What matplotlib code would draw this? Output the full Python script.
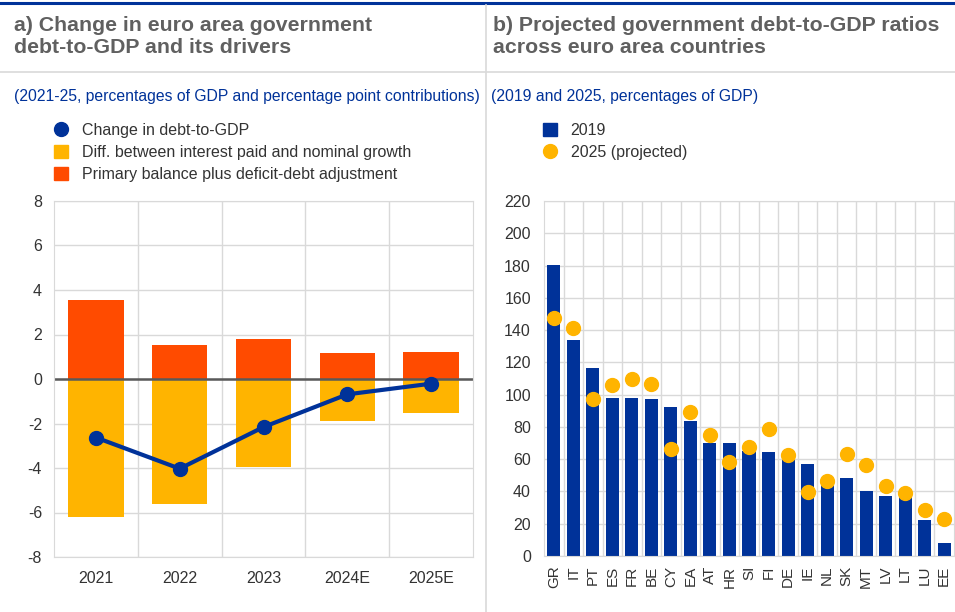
import matplotlib.pyplot as plt
import numpy as np
from matplotlib.lines import Line2D
from matplotlib.patches import Patch

plt.rcParams['font.family'] = ['Liberation Sans', 'DejaVu Sans']
plt.rcParams['axes.unicode_minus'] = False

# panel a data
years = ["2021", "2022", "2023", "2024E", "2025E"]
primary_balance = [3.55, 1.53, 1.8, 1.17, 1.23]
interest_growth = [-6.2, -5.6, -3.94, -1.87, -1.53]
debt_change = [-2.63, -4.03, -2.16, -0.69, -0.21]

# panel b data
countries = ["GR", "IT", "PT", "ES", "FR", "BE", "CY", "EA", "AT", "HR", "SI",
             "FI", "DE", "IE", "NL", "SK", "MT", "LV", "LT", "LU", "EE"]
debt_2019 = [180.2, 133.8, 116.4, 98.2, 98.2, 97.4, 92.6, 83.9, 70.2, 70.2, 65.0,
             64.6, 59.8, 56.8, 45.0, 48.1, 40.0, 36.9, 37.0, 22.4, 8.1]
debt_2025 = [147.5, 141.0, 97.4, 106.0, 109.8, 106.7, 66.1, 89.1, 74.8, 58.2, 67.7,
             78.9, 62.4, 39.8, 46.4, 63.0, 56.6, 43.1, 39.2, 28.6, 23.0]

BLUE = "#003299"
YELLOW = "#ffb400"
RED = "#ff4b00"
GRID = "#d9d9d9"
TXT = "#333333"

W, H = 955, 612
fig = plt.figure(figsize=(W / 100, H / 100), dpi=100)


def px_axes(x0, y0, x1, y1):
    return fig.add_axes([x0 / W, 1 - y1 / H, (x1 - x0) / W, (y1 - y0) / H])


# frame lines
fig.add_artist(Line2D([0, 1], [1 - 3 / H, 1 - 3 / H], color=BLUE, lw=2.2))
fig.add_artist(Line2D([0, 1], [1 - 72 / H, 1 - 72 / H], color=GRID, lw=1.2))
fig.add_artist(Line2D([486 / W, 486 / W], [0, 1 - 5 / H], color=GRID, lw=1.2))

# titles
fig.text(14 / W, 1 - 16 / H, "a) Change in euro area government\ndebt-to-GDP and its drivers",
         fontsize=15.3, fontweight="bold", color="#606060", va="top", linespacing=1.18)
fig.text(493 / W, 1 - 16 / H, "b) Projected government debt-to-GDP ratios\nacross euro area countries",
         fontsize=15.3, fontweight="bold", color="#606060", va="top", linespacing=1.18)
fig.text(14 / W, 1 - 97 / H, "(2021-25, percentages of GDP and percentage point contributions)",
         fontsize=11.3, color=BLUE, va="center")
fig.text(491 / W, 1 - 97 / H, "(2019 and 2025, percentages of GDP)",
         fontsize=11.3, color=BLUE, va="center")


def style(ax):
    ax.set_axisbelow(True)
    ax.grid(True, which="minor", color=GRID, lw=1)
    ax.grid(True, which="major", axis="y", color=GRID, lw=1)
    for s in ax.spines.values():
        s.set_color(GRID)
    ax.tick_params(which="both", length=0, labelsize=11.5, colors=TXT)


# panel a
ax1 = px_axes(54, 201, 473, 557)
x = np.arange(len(years))
ax1.bar(x, primary_balance, width=0.66, color=RED)
ax1.bar(x, interest_growth, width=0.66, color=YELLOW)
ax1.axhline(0, color="#595959", lw=1.8)
ax1.plot(x, debt_change, color=BLUE, lw=3, marker="o", ms=10)
ax1.set_xlim(-0.5, len(years) - 0.5)
ax1.set_ylim(-8, 8)
ax1.set_yticks(range(-8, 9, 2))
ax1.set_xticks(x)
ax1.set_xticklabels(years)
ax1.set_xticks(np.arange(0.5, len(years) - 0.5), minor=True)
style(ax1)
ax1.tick_params(axis="y", pad=8.6)
ax1.tick_params(axis="x", pad=10)

leg1 = [Line2D([], [], color=BLUE, marker="o", ls="", ms=10),
        Patch(color=YELLOW), Patch(color=RED)]
fig.legend(leg1, ["Change in debt-to-GDP", "Diff. between interest paid and nominal growth",
                  "Primary balance plus deficit-debt adjustment"],
           loc="upper left", bbox_to_anchor=(40 / W, 1 - 109 / H), frameon=False,
           fontsize=11.5, handlelength=0.85, handleheight=0.85, handletextpad=0.85,
           labelspacing=0.42, labelcolor=TXT)

# panel b
ax2 = px_axes(544, 201, 954, 556)
xb = np.arange(len(countries))
ax2.bar(xb, debt_2019, width=0.67, color=BLUE)
ax2.plot(xb, debt_2025, ls="", marker="o", ms=10, color=YELLOW)
ax2.set_xlim(-0.5, len(countries) - 0.5)
ax2.set_ylim(0, 220)
ax2.set_yticks(range(0, 221, 20))
ax2.set_xticks(xb)
ax2.set_xticklabels(countries, rotation=90)
ax2.set_xticks(np.arange(0.5, len(countries) - 0.5), minor=True)
style(ax2)
ax2.tick_params(axis="y", pad=9.4)
ax2.tick_params(axis="x", pad=7, labelsize=11)

leg2 = [Patch(color=BLUE), Line2D([], [], color=YELLOW, marker="o", ls="", ms=10)]
fig.legend(leg2, ["2019", "2025 (projected)"],
           loc="upper left", bbox_to_anchor=(529 / W, 1 - 109 / H), frameon=False,
           fontsize=11.5, handlelength=0.85, handleheight=0.85, handletextpad=0.85,
           labelspacing=0.42, labelcolor=TXT)

fig.savefig("out.png", dpi=100)
